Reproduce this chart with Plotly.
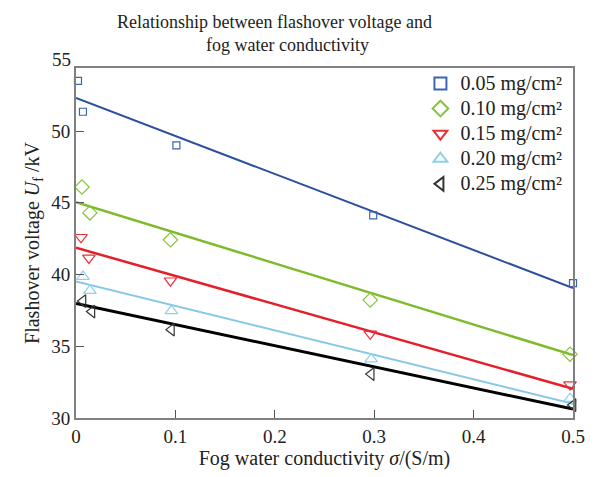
import plotly.graph_objects as go

# ---- data ----
labels = ["0.05 mg/cm²", "0.10 mg/cm²", "0.15 mg/cm²",
          "0.20 mg/cm²", "0.25 mg/cm²"]

x_005 = [0.002, 0.007, 0.101, 0.299, 0.500]
y_005 = [53.5, 51.35, 49.0, 44.13, 39.4]

x_010 = [0.006, 0.014, 0.095, 0.296, 0.497]
y_010 = [46.1, 44.3, 42.42, 38.22, 34.45]

x_015 = [0.005, 0.013, 0.095, 0.296, 0.497]
y_015 = [42.6, 41.16, 39.57, 35.87, 32.33]

x_020 = [0.007, 0.014, 0.096, 0.297, 0.497]
y_020 = [39.86, 38.88, 37.47, 34.1, 31.35]

x_025 = [0.007, 0.016, 0.096, 0.297, 0.500]
y_025 = [38.15, 37.42, 36.16, 33.06, 30.9]

# fitted lines: values at sigma = 0 and sigma = 0.5
fit_x = [0.0, 0.5]
fit_005 = [52.31, 39.06]
fit_010 = [45.05, 34.38]
fit_015 = [41.87, 32.03]
fit_020 = [39.52, 31.0]
fit_025 = [37.99, 30.62]

x_ticks = [0, 0.1, 0.2, 0.3, 0.4, 0.5]
x_tick_text = ["0", "0.1", "0.2", "0.3", "0.4", "0.5"]
y_ticks = [30, 35, 40, 45, 50]
y_top_label = "55"

title_line1 = "Relationship between flashover voltage and"
title_line2 = "fog water conductivity"

# ---- styling ----
series = [
    (x_005, y_005, fit_005, "square-open", "#3a64b4", "#2b4f9e", 7, 2),
    (x_010, y_010, fit_010, "diamond-open", "#86c43a", "#7dbb2a", 11, 2.5),
    (x_015, y_015, fit_015, "triangle-down-open", "#e8303a", "#e3202a", 11, 2.5),
    (x_020, y_020, fit_020, "triangle-up-open", "#8fd0ea", "#88c8e4", 11, 2),
    (x_025, y_025, fit_025, "triangle-left-open", "#333333", "#000000", 11, 3),
]

fig = go.Figure()
for lab, (xs, ys, fy, sym, mc, lc, ms, lw) in zip(labels, series):
    fig.add_trace(go.Scatter(x=fit_x, y=fy, mode="lines", line=dict(color=lc, width=lw),
                             showlegend=False, hoverinfo="skip"))
for lab, (xs, ys, fy, sym, mc, lc, ms, lw) in zip(labels, series):
    fig.add_trace(go.Scatter(x=xs, y=ys, mode="markers",
                             name='<span style="font-size:20px">' + lab + "</span>",
                             marker=dict(symbol=sym, size=ms, color=mc, line=dict(width=1.2, color=mc)),
                             cliponaxis=False))

font_family = "Liberation Serif, Times New Roman, serif"
txt = "#222222"
y_min, y_max = 30, 54.4
fig.update_layout(
    width=597, height=477,
    margin=dict(l=76, r=20, t=68, b=53),
    paper_bgcolor="white", plot_bgcolor="white",
    font=dict(family=font_family, size=19, color=txt),
    legend=dict(x=0.693, y=1.006, xanchor="left", yanchor="top",
                bgcolor="rgba(0,0,0,0)", font=dict(family=font_family, size=17, color=txt),
                itemsizing="constant", tracegroupgap=0),
    showlegend=True,
)
fig.update_xaxes(range=[0, 0.5], tickvals=x_ticks, ticktext=x_tick_text,
                 ticks="inside", ticklen=8, tickcolor="#555555", tickwidth=1,
                 tickfont=dict(size=19),
                 showline=True, linecolor="#808080", linewidth=2, mirror=True,
                 showgrid=False, zeroline=False,
                 title=dict(text="Fog water conductivity <i>σ</i>/(S/m)", standoff=4,
                            font=dict(family=font_family, size=20)))
fig.update_yaxes(range=[y_min, y_max], tickvals=y_ticks,
                 ticks="inside", ticklen=8, tickcolor="#555555", tickwidth=1,
                 tickfont=dict(size=19),
                 showline=True, linecolor="#808080", linewidth=2, mirror=True,
                 showgrid=False, zeroline=False,
                 title=dict(text="Flashover voltage <i>U</i><sub>f</sub> /kV", standoff=6,
                            font=dict(family=font_family, size=20)))
fig.add_annotation(x=0, xref="paper", y=(55 - y_min) / (y_max - y_min), yref="paper",
                   text=y_top_label, showarrow=False,
                   xanchor="right", yanchor="middle", xshift=-3,
                   font=dict(family=font_family, size=19, color=txt))
# two-line title
fig.add_annotation(x=(276 - 76) / 501, xref="paper", y=1, yref="paper",
                   text=title_line1, showarrow=False, xanchor="center", yanchor="middle",
                   yshift=424 - 22 - 356,
                   font=dict(family=font_family, size=18, color=txt))
fig.add_annotation(x=(289 - 76) / 501, xref="paper", y=1, yref="paper",
                   text=title_line2, showarrow=False, xanchor="center", yanchor="middle",
                   yshift=424 - 45 - 356,
                   font=dict(family=font_family, size=18, color=txt))

fig.write_html("out.html")
